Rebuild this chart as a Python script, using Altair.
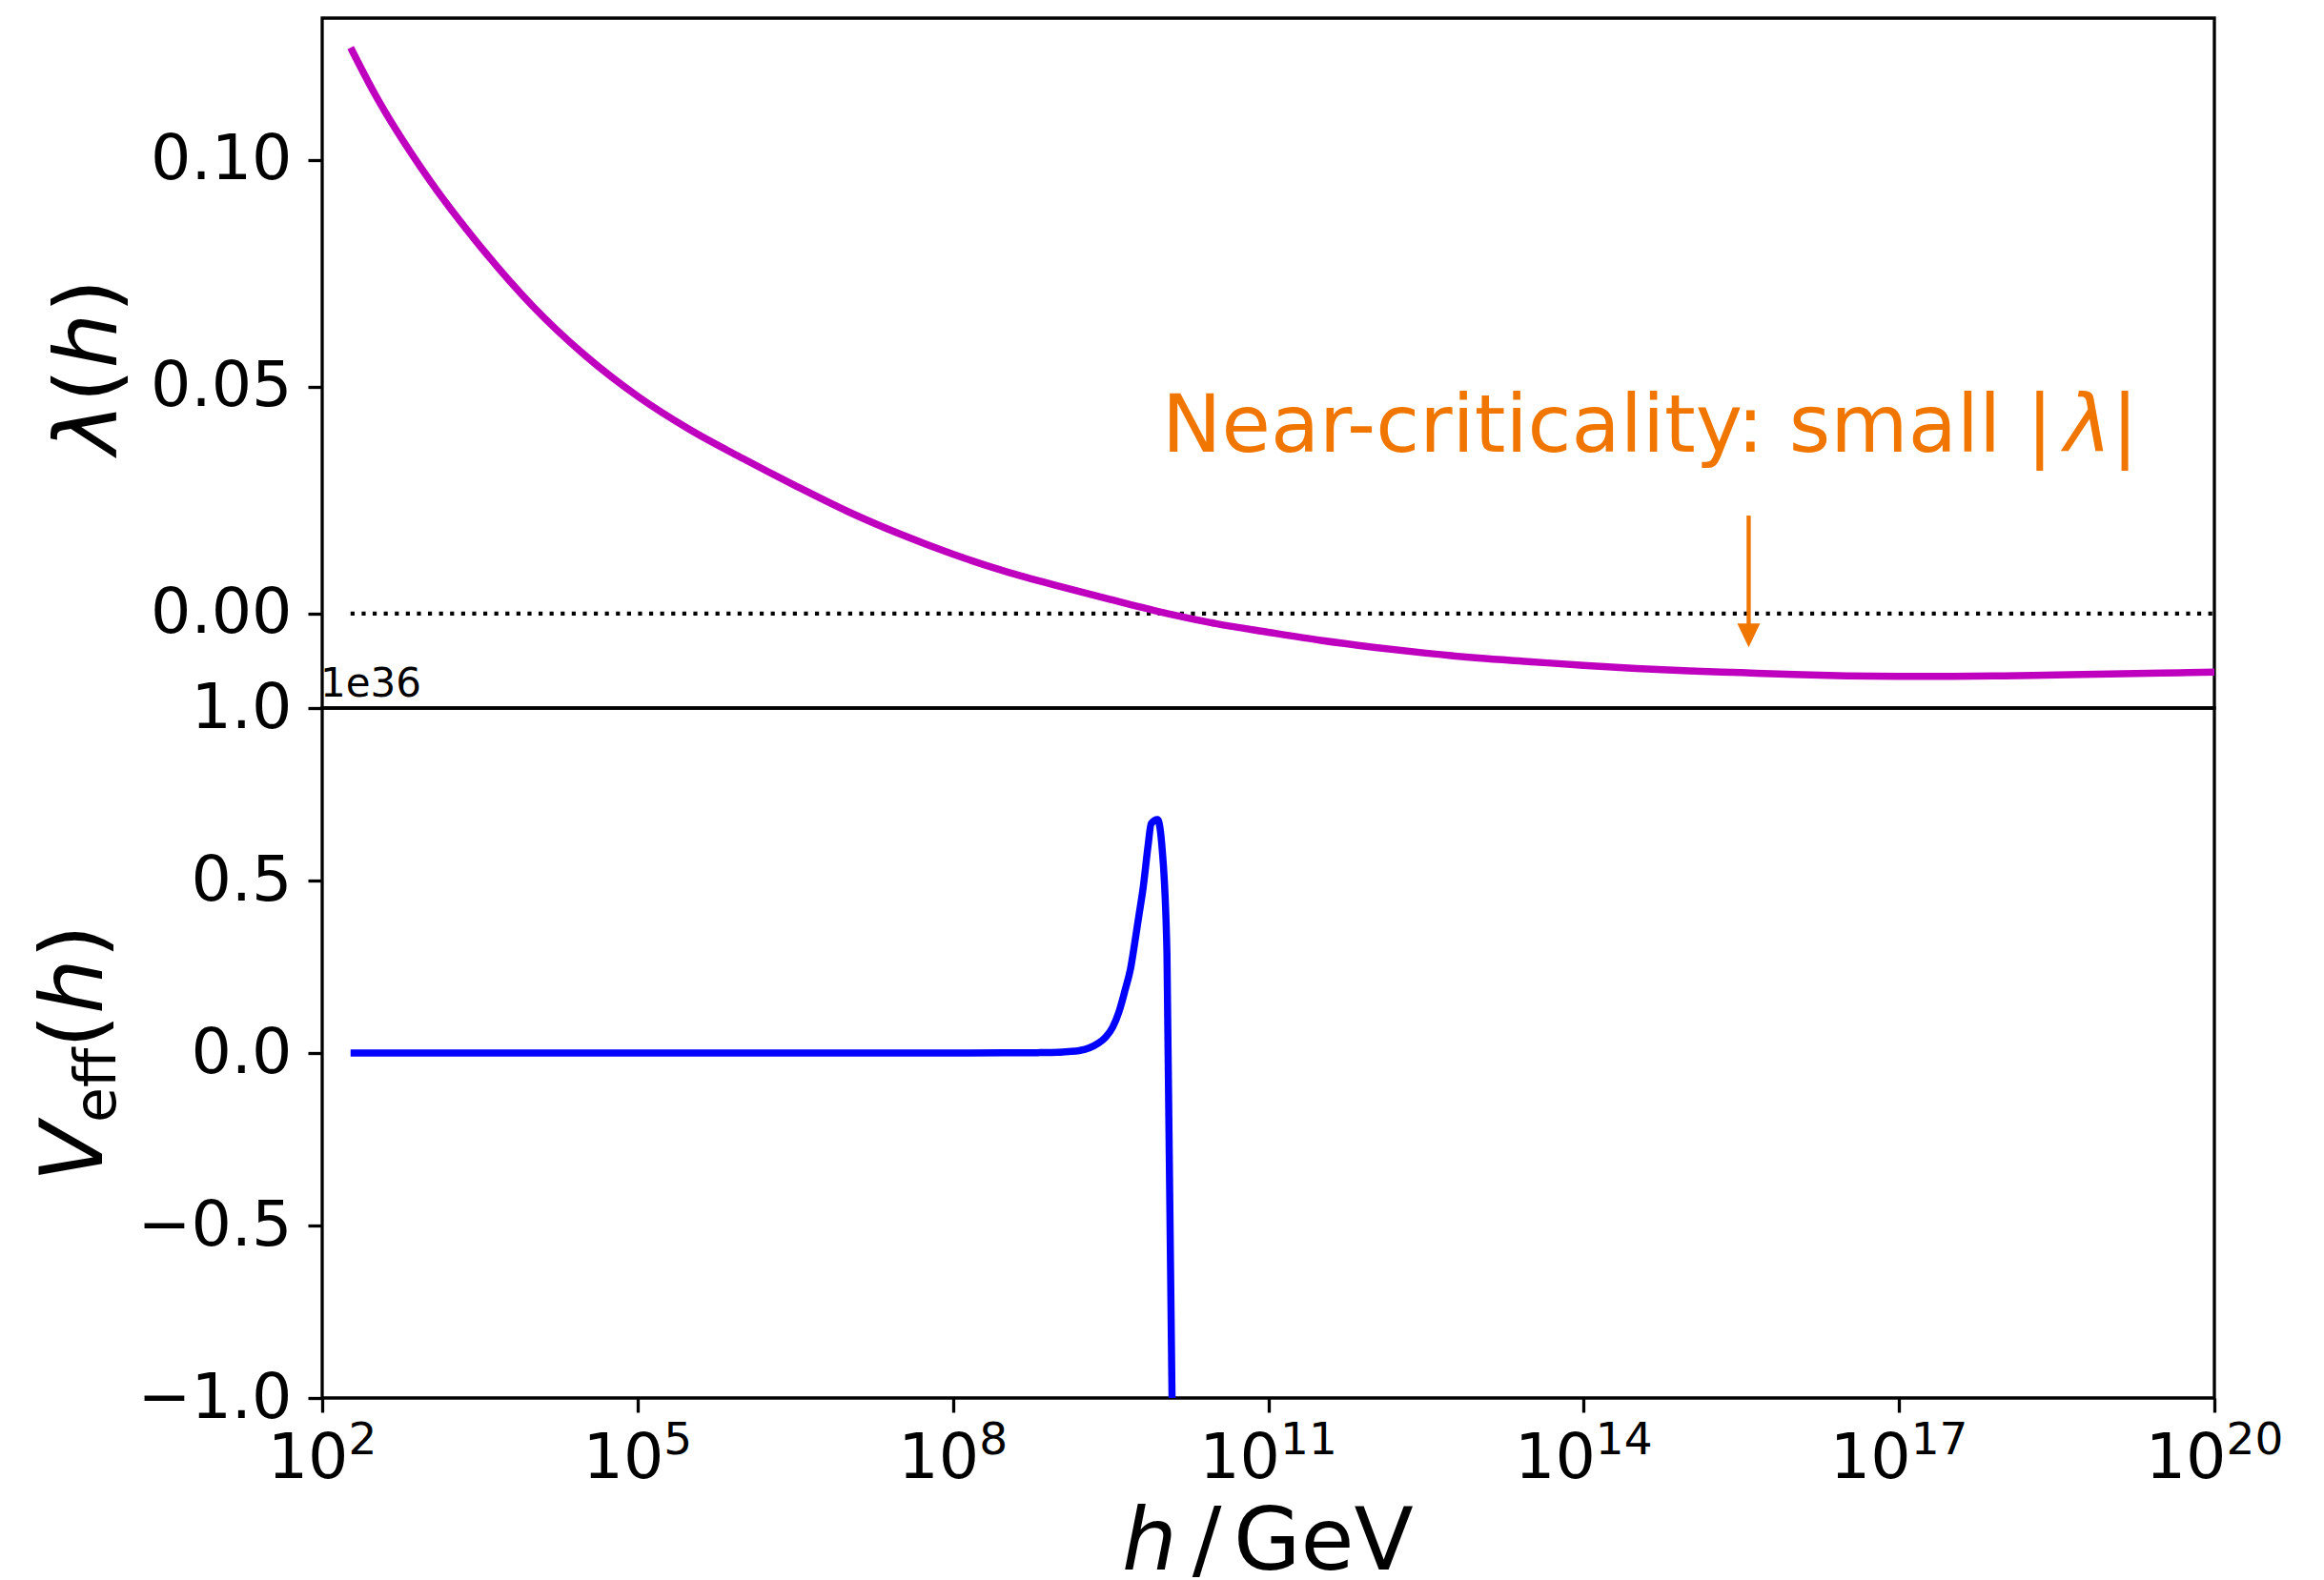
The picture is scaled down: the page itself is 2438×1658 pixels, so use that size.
import altair as alt
import pandas as pd

# ---------------- data ----------------
# upper panel: quartic coupling lambda(h), x given as log10(h / GeV)
lam_logh = [2.27, 2.5, 3.0, 3.5, 4.0, 4.5, 5.0, 5.5, 6.0, 6.5, 7.0, 7.5, 8.0,
            8.5, 9.0, 9.5, 10.04, 10.5, 11.0, 11.5, 12.0, 12.5, 13.0, 13.5,
            14.0, 14.5, 15.0, 15.5, 16.0, 16.5, 17.0, 17.5, 18.0, 18.5, 19.0,
            19.5, 20.0]
lam_vals = [0.1247, 0.1145, 0.0962, 0.0810, 0.0678, 0.0569, 0.0479, 0.0405,
            0.0342, 0.0282, 0.0225, 0.0175, 0.0131, 0.0093, 0.0061, 0.0031,
            0.0, -0.0022, -0.0041, -0.0059, -0.0074, -0.0087, -0.0098,
            -0.0106, -0.0114, -0.0121, -0.0126, -0.0130, -0.0134, -0.0137,
            -0.0138, -0.0138, -0.0137, -0.0135, -0.0133, -0.0131, -0.0129]

# lower panel: effective potential V_eff(h) in units of 1e36
V_logh = [2.27, 3.0, 4.0, 5.0, 6.0, 7.0, 8.0, 8.5, 8.8, 9.0, 9.1, 9.2, 9.3,
          9.38, 9.45, 9.52, 9.58, 9.64, 9.69, 9.73, 9.77, 9.81, 9.856, 9.886,
          9.946, 9.991, 10.036, 10.09]
V_vals = [0.0, 0.0, 0.0, 0.0, 0.0, 0.0, 0.0, 0.0005, 0.001, 0.002, 0.004,
          0.007, 0.015, 0.028, 0.045, 0.075, 0.12, 0.185, 0.245, 0.32, 0.40,
          0.48, 0.60, 0.665, 0.677, 0.589, 0.29, -1.15]

x_tick_exps = [2, 5, 8, 11, 14, 17, 20]
lam_ticks = [0.0, 0.05, 0.10]
V_ticks = [-1.0, -0.5, 0.0, 0.5, 1.0]

annot_parts = ["Near-criticality: small |", "λ", "|"]
annot_logh = 9.99          # left end of the annotation text
annot_lam = 0.0356         # text baseline
arrow_logh = 15.57
arrow_lam_start = 0.0216
arrow_lam_head = -0.0048

# ---------------- style ----------------
FONT = "DejaVu Sans"
PURPLE = "#bf00bf"
BLUE = "#0000ff"
ORANGE = "#f07600"
W, H = 1985, 724
TICK_FS = 66.7
SUP_FS = 47
TITLE_FS = 91
ANNOT_FS = 83.5

x_scale = alt.Scale(type="log", domain=[1e2, 1e20], nice=False)
lam_scale = alt.Scale(domain=[-0.0208, 0.1312], nice=False, zero=False)
V_scale = alt.Scale(domain=[-1.0, 1.0], nice=False, zero=False)

lam_df = pd.DataFrame({"h": [10 ** v for v in lam_logh], "lam": lam_vals})
V_df = pd.DataFrame({"h": [10 ** v for v in V_logh], "V": V_vals})
zero_df = pd.DataFrame({"h": [10 ** lam_logh[0]], "h2": [10 ** lam_logh[-1]], "lam": [0.0]})
arrow_df = pd.DataFrame({"h": [10 ** arrow_logh], "lam": [arrow_lam_start], "lam2": [arrow_lam_head]})
head_df = pd.DataFrame({"h": [10 ** arrow_logh], "lam": [arrow_lam_head]})

X_TOP = alt.X("h:Q", scale=x_scale, axis=None)
Y_TOP = alt.Y("lam:Q", scale=lam_scale,
              axis=alt.Axis(values=lam_ticks, format=".2f", title=None))


def txt(s, x, y, size, italic=False, angle=0, align="left", baseline="alphabetic"):
    kw = dict(font=FONT, fontSize=size, color="black", align=align,
              baseline=baseline, angle=angle)
    if italic:
        kw["fontStyle"] = "italic"
    return alt.Chart(pd.DataFrame({"t": [s]})).mark_text(**kw).encode(
        text="t:N", x=alt.value(x), y=alt.value(y))


# ---------------- upper panel ----------------
lam_line = alt.Chart(lam_df).mark_line(color=PURPLE, strokeWidth=7.5,
                                       interpolate="monotone").encode(x=X_TOP, y=Y_TOP)
zero_line = alt.Chart(zero_df).mark_rule(color="black", strokeWidth=4.2,
                                         strokeDash=[4.2, 7.4]).encode(
    x=X_TOP, x2="h2:Q", y=Y_TOP)
arrow_shaft = alt.Chart(arrow_df).mark_rule(color=ORANGE, strokeWidth=4.4).encode(
    x=X_TOP, y=Y_TOP, y2="lam2:Q")
arrow_head = alt.Chart(head_df).mark_point(
    shape="M-0.96,-1L0.96,-1L0,1Z", filled=True, color=ORANGE, opacity=1,
    size=625, strokeWidth=0).encode(x=X_TOP, y=Y_TOP)

# annotation: upright text, italic lambda, closing bar (advance widths of DejaVu Sans)
w_main = 11.334 * ANNOT_FS
w_lam = 0.592 * ANNOT_FS
annot_layers = []
for part, dx, italic in [(annot_parts[0], 0, False), (annot_parts[1], w_main, True),
                         (annot_parts[2], w_main + w_lam, False)]:
    kw = dict(font=FONT, fontSize=ANNOT_FS, color=ORANGE, align="left",
              baseline="alphabetic", dx=dx)
    if italic:
        kw["fontStyle"] = "italic"
    annot_layers.append(
        alt.Chart(pd.DataFrame({"h": [10 ** annot_logh], "lam": [annot_lam], "t": [part]}))
        .mark_text(**kw).encode(x=X_TOP, y=Y_TOP, text="t:N"))

top_title = [
    txt("λ", -216, 458, TITLE_FS, italic=True, angle=270),
    txt("(", -216, 403.5, TITLE_FS, angle=270),
    txt("h", -216, 367.6, TITLE_FS, italic=True, angle=270),
    txt(")", -216, 309.3, TITLE_FS, angle=270),
]

top = alt.layer(zero_line, lam_line, arrow_shaft, arrow_head, *annot_layers,
                *top_title).properties(width=W, height=H)

# ---------------- lower panel ----------------
X_BOT = alt.X("h:Q", scale=x_scale,
              axis=alt.Axis(values=[10.0 ** e for e in x_tick_exps], labels=False,
                            title=None))
V_line = alt.Chart(V_df).mark_line(color=BLUE, strokeWidth=7.5, clip=True,
                                   interpolate="monotone").encode(
    x=X_BOT,
    y=alt.Y("V:Q", scale=V_scale,
            axis=alt.Axis(values=V_ticks, format=".1f", title=None)),
)

# x tick labels 10^n composed as base + superscript, centred on the tick
w_base = 1.272 * TICK_FS
tick_label_layers = []
for ndig in (1, 2):
    exps = [e for e in x_tick_exps if len(str(e)) == ndig]
    w_tot = w_base + ndig * 0.636 * SUP_FS
    df = pd.DataFrame({"h": [10.0 ** e for e in exps],
                       "b": ["10"] * len(exps), "e": [str(e) for e in exps]})
    tick_label_layers.append(
        alt.Chart(df).mark_text(font=FONT, fontSize=TICK_FS, color="black",
                                align="left", baseline="alphabetic",
                                dx=-w_tot / 2).encode(
            x=X_BOT, y=alt.value(H + 84), text="b:N"))
    tick_label_layers.append(
        alt.Chart(df).mark_text(font=FONT, fontSize=SUP_FS, color="black",
                                align="left", baseline="alphabetic",
                                dx=-w_tot / 2 + w_base).encode(
            x=X_BOT, y=alt.value(H + 59), text="e:N"))

bottom_title = [
    txt("V", -231, 497, TITLE_FS, italic=True, angle=270),
    txt("eff", -217, 435, 60, angle=270),
    txt("(", -231, 357, TITLE_FS, angle=270),
    txt("h", -231, 321, TITLE_FS, italic=True, angle=270),
    txt(")", -231, 262.7, TITLE_FS, angle=270),
]
x_title = [
    txt("h", 839, 904, TITLE_FS, italic=True),
    txt("/", 928, 904, TITLE_FS, align="center"),
    txt("GeV", 956, 904, TITLE_FS),
]
offset_txt = txt("1e36", -2, -12, 42)

bottom = alt.layer(V_line, *tick_label_layers, offset_txt, *bottom_title,
                   *x_title).properties(width=W, height=H)

chart = alt.vconcat(top, bottom, spacing=0, bounds="flush").properties(
    padding={"left": 24, "top": 9, "right": 10, "bottom": 0},
    background="white",
).configure_view(
    stroke="black", strokeWidth=3.3
).configure_axis(
    domain=False, grid=False, labelFont=FONT, labelFontSize=TICK_FS,
    labelColor="black", tickColor="black", tickWidth=3.3, tickSize=15,
    labelFlush=False,
).configure_axisY(labelPadding=17)

chart.save("out.html", embed_options={"renderer": "svg", "actions": False})
